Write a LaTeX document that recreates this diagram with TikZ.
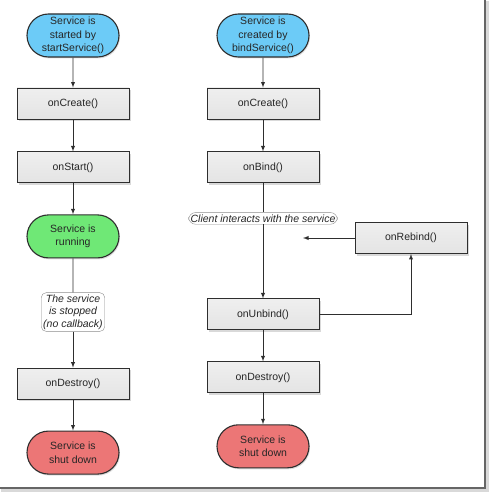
\documentclass[tikz,border=0pt]{standalone}
\usepackage{fontspec}
\setmainfont{Liberation Sans}
\usetikzlibrary{positioning,shapes.misc,arrows,shadows}
\definecolor{svblue}{HTML}{6CCBF7}
\definecolor{svgreen}{HTML}{6FE876}
\definecolor{svred}{HTML}{EC7676}
\definecolor{svedge}{HTML}{2E2E2E}
\definecolor{svgrey}{HTML}{E4E4E4}
\tikzset{
  term/.style  ={rounded rectangle, draw=svedge, line width=1.1pt, align=center,
                 font=\fontsize{10.5}{13.5}\selectfont, text=black!85,
                 minimum width=96pt, minimum height=43pt, inner sep=2pt,
                 drop shadow={opacity=0.25, shadow xshift=1pt, shadow yshift=-1.5pt}},
  termb/.style ={term, fill=svblue},
  termg/.style ={term, fill=svgreen},
  termr/.style ={term, fill=svred},
  cb/.style    ={rectangle, draw=svedge, line width=0.9pt, top color=svgrey!60,
                 bottom color=svgrey, text=black!85,
                 font=\fontsize{10.5}{13}\selectfont,
                 minimum width=112pt, minimum height=31pt, inner sep=2pt,
                 drop shadow={opacity=0.3, shadow xshift=1.5pt, shadow yshift=-2pt}},
  note/.style  ={rounded corners=5pt, draw=black!45, fill=white, align=center,
                 font=\fontsize{10.5}{12.5}\selectfont\itshape, text=black!85,
                 inner sep=2pt},
  fl/.style    ={-latex, line width=0.9pt, draw=svedge},
  ln/.style    ={line width=0.9pt, draw=svedge}
}
\begin{document}
\begin{tikzpicture}[x=1pt, y=-1pt, node distance=31pt]
  \useasboundingbox (0,0) rectangle (488,492);

  % started service
  \node[termb] (sstart) at (73,35.5) {Service is\\started by\\startService()};
  \node[cb,below=30pt of sstart]    (screate)  {onCreate()};
  \node[cb,below=32pt of screate]   (sonstart) {onStart()};
  \node[termg,below=of sonstart]    (srun)     {Service is\\running};
  \node[note,below=34pt of srun]    (sstop)    {The service\\is stopped\\(no callback)};
  \node[cb,below=36pt of sstop]     (sdestroy) {onDestroy()};
  \node[termr,below=of sdestroy]    (sdown)    {Service is\\shut down};

  \draw[fl] (sstart)--(screate); \draw[fl] (screate)--(sonstart);
  \draw[fl] (sonstart)--(srun);  \draw[ln] (srun)--(sstop);
  \draw[fl] (sstop)--(sdestroy); \draw[fl] (sdestroy)--(sdown);

  % bound service
  \node[termb] (bstart) at (263,35.5) {Service is\\created by\\bindService()};
  \node[cb,below=30pt of bstart]    (bcreate)  {onCreate()};
  \node[cb,below=32pt of bcreate]   (bbind)    {onBind()};
  \node[note,rounded corners=7pt,below=29pt of bbind] (bclient) {Client interacts with the service};
  \node[cb,below=74pt of bclient]   (bunbind)  {onUnbind()};
  \node[cb,below=of bunbind]        (bdestroy) {onDestroy()};
  \node[termr,below=of bdestroy]    (bdown)    {Service is\\shut down};
  \node[cb] (brebind) at (411,238) {onRebind()};
  \coordinate (brejoin) at (303,238);

  \draw[fl] (bstart)--(bcreate); \draw[fl] (bcreate)--(bbind);
  \draw[ln] (bbind)--(bclient);  \draw[fl] (bclient)--(bunbind);
  \draw[fl] (bunbind)--(bdestroy); \draw[fl] (bdestroy)--(bdown);
  \draw[fl] (brebind.west)--(brejoin);
  \draw[fl] (bunbind.east) -| (brebind.south);

  % frame
  \draw[black!15, line width=3pt] (1,490) -- (487,490) -- (487,1);
  \draw[black!60, line width=1.2pt] (0,488) -- (485,488) -- (485,0);
\end{tikzpicture}
\end{document}
